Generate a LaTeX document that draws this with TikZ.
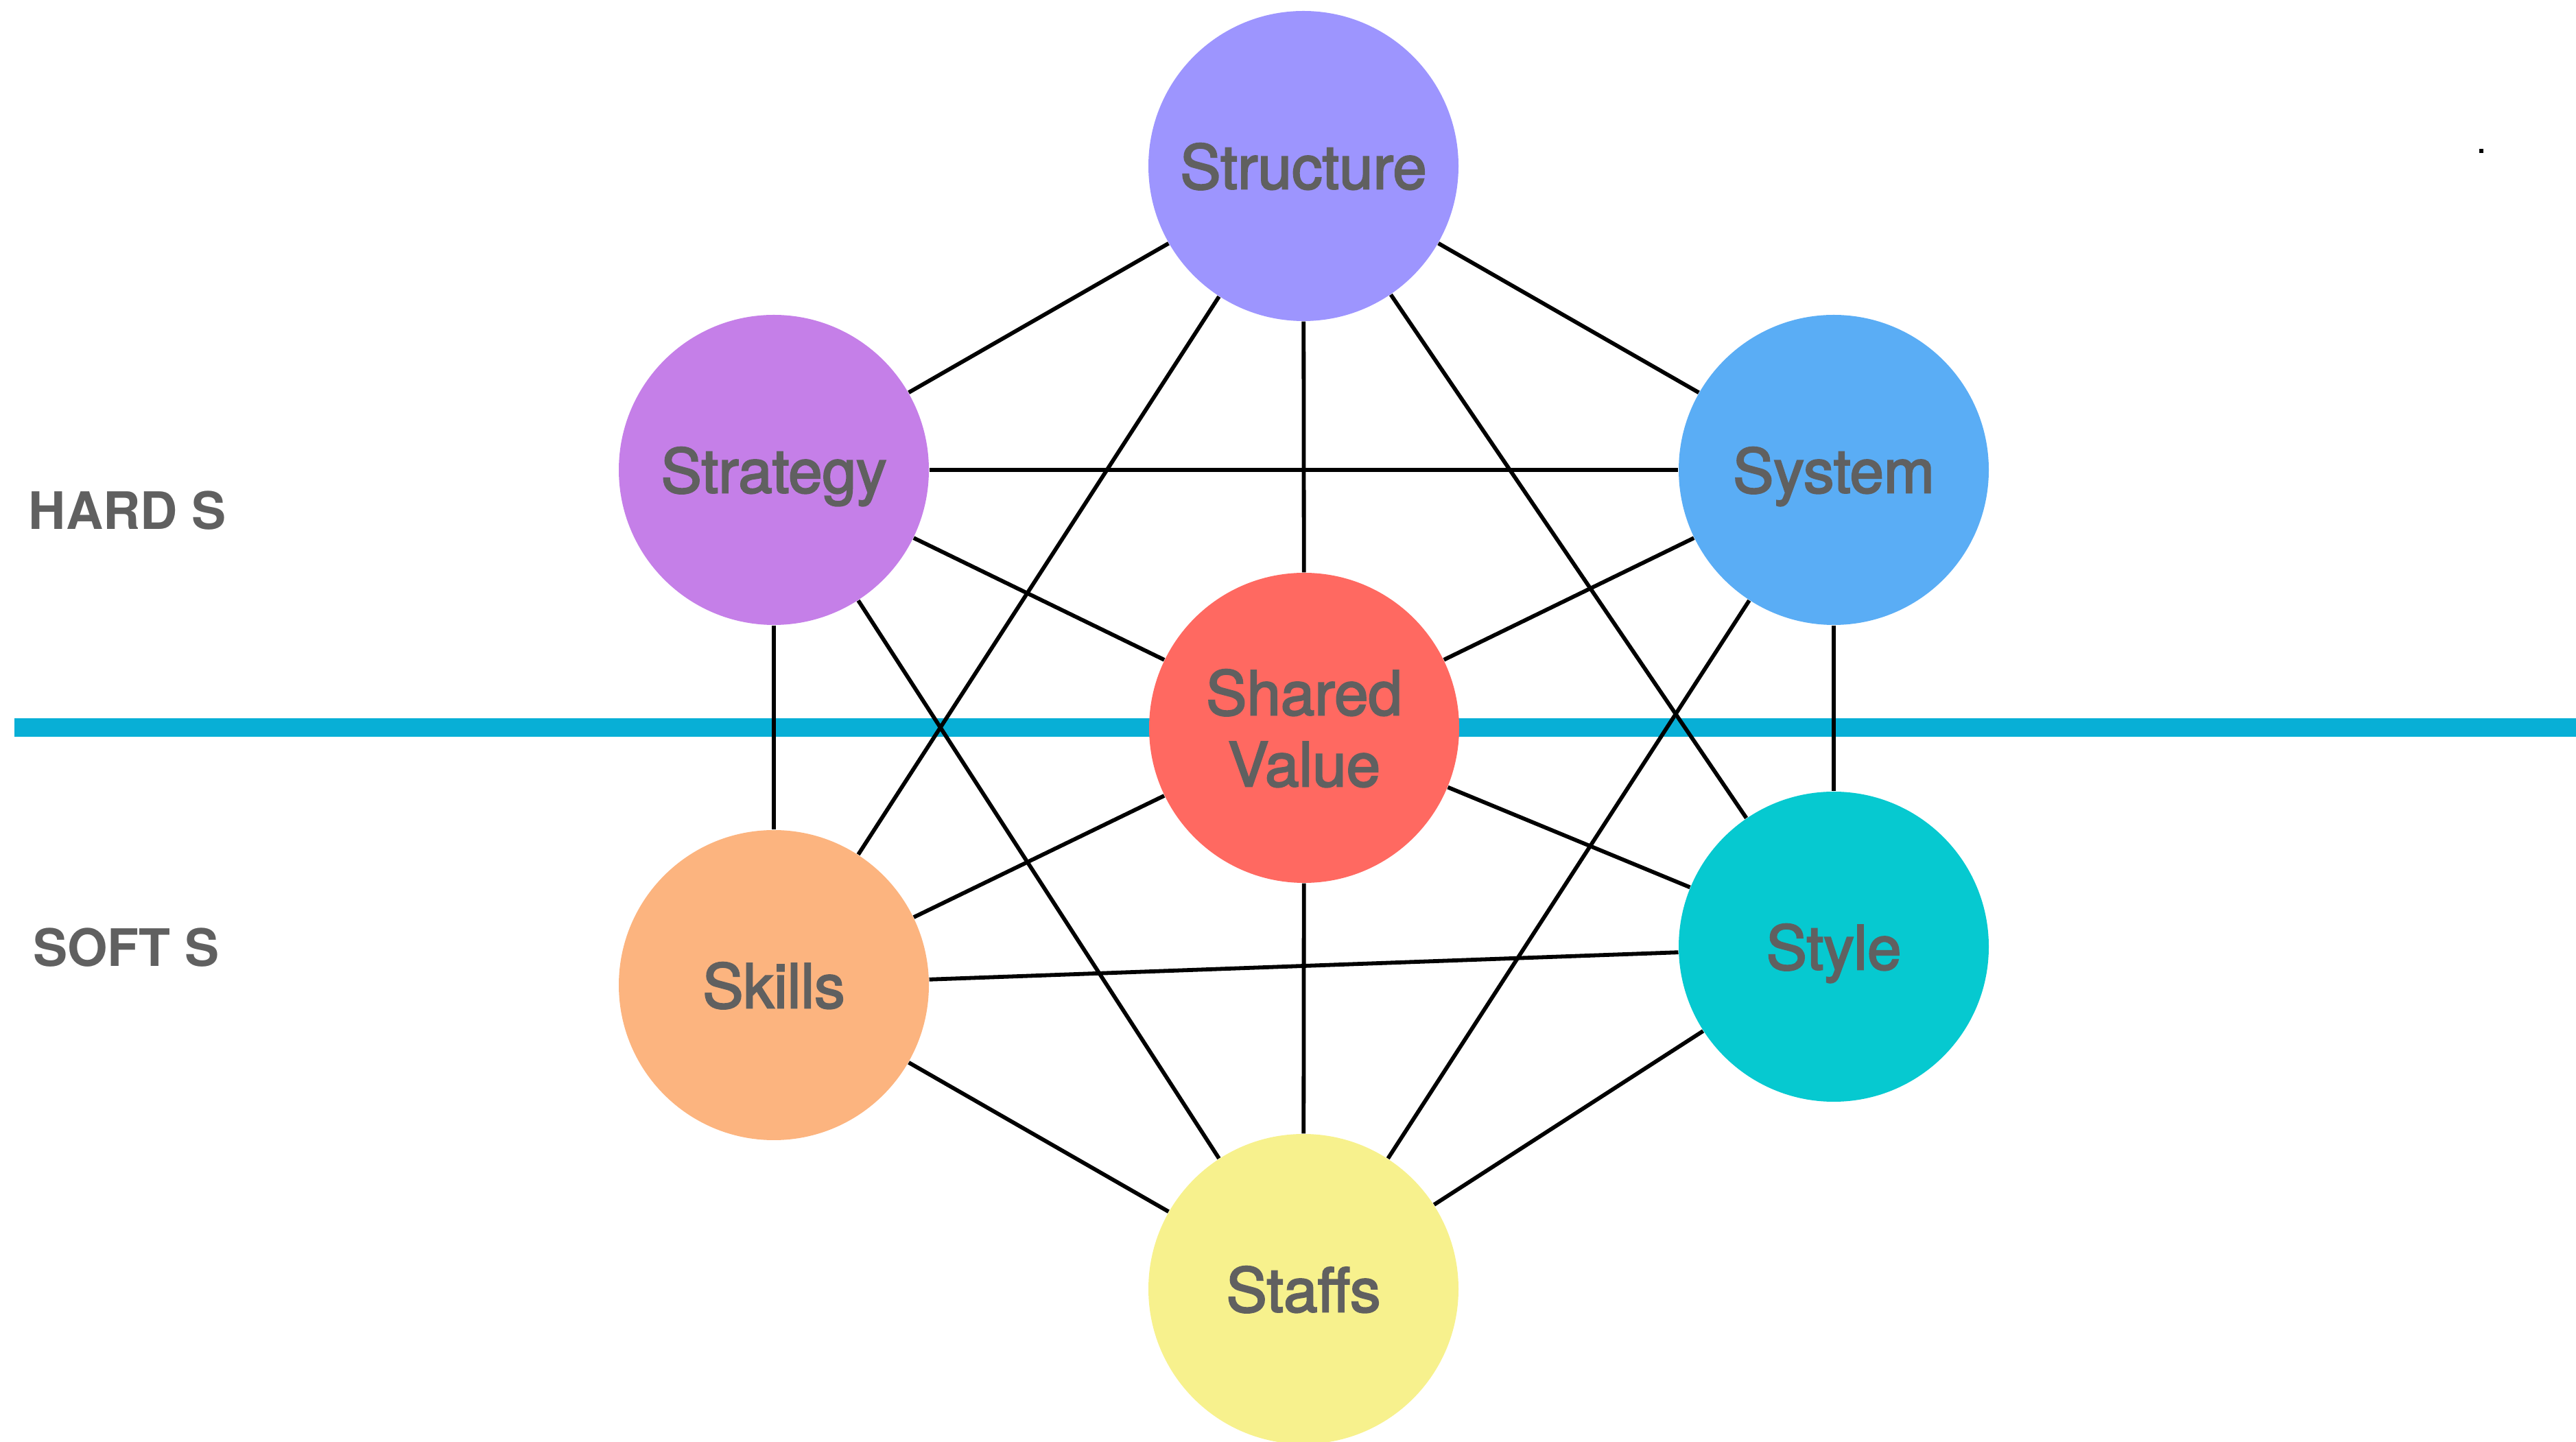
\documentclass[tikz,border=0pt]{standalone}
\usepackage{fontspec}
\setmainfont{TeX Gyre Heros}
\newfontfamily\bubblefont[FakeBold=2.6]{TeX Gyre Heros}
\usepackage{tikz}

\definecolor{textgray}{HTML}{606060}
\definecolor{dividerblue}{HTML}{08AFD6}
\definecolor{structurecol}{HTML}{9D95FE}
\definecolor{strategycol}{HTML}{C57FE8}
\definecolor{systemcol}{HTML}{5AADF5}
\definecolor{sharedcol}{HTML}{FF6961}
\definecolor{skillscol}{HTML}{FCB47F}
\definecolor{stylecol}{HTML}{06C9D0}
\definecolor{staffscol}{HTML}{F7F18D}

\begin{document}
\begin{tikzpicture}[
    sbubble/.style={circle,minimum size=4.52cm,inner sep=0pt,align=center,
      text depth=0pt,text=textgray,
      font=\bubblefont\fontsize{25.3}{29.6}\selectfont},
    sgroup/.style={text=textgray,font=\fontsize{21.4}{25}\selectfont\bfseries},
    slink/.style={draw=black,line width=1.65pt}
  ]

    \useasboundingbox (0,0) rectangle (37.55,21.01);

    \fill[dividerblue] (0.21,10.265) rectangle (37.55,10.535);

    \fill[black] (36.14,18.78) rectangle (36.20,18.84);

    \node[sgroup] (hard) at (1.86,13.57) {HARD S};
    \node[sgroup] (soft) at (1.84,7.20) {SOFT S};

    \node[sbubble,fill=structurecol] (structure) at (19.00,18.59) {Structure};
    \node[sbubble,fill=strategycol] (strategy) at (11.28,14.16) {Strategy};
    \node[sbubble,fill=systemcol] (system) at (26.73,14.16) {System};
    \node[sbubble,fill=sharedcol] (shared) at (19.01,10.40) {Shared\\Value};
    \node[sbubble,fill=skillscol] (skills) at (11.28,6.65) {Skills};
    \node[sbubble,fill=stylecol] (style) at (26.73,7.21) {Style};
    \node[sbubble,fill=staffscol] (staffs) at (19.00,2.22) {Staffs};

    \foreach \a/\b in {structure/strategy,structure/system,structure/shared,
      structure/skills,structure/style,strategy/system,strategy/shared,
      strategy/skills,strategy/staffs,system/shared,system/style,
      system/staffs,shared/skills,shared/style,shared/staffs,
      skills/style,skills/staffs,style/staffs}
      \draw[slink] (\a) -- (\b);

  \end{tikzpicture}
\end{document}
